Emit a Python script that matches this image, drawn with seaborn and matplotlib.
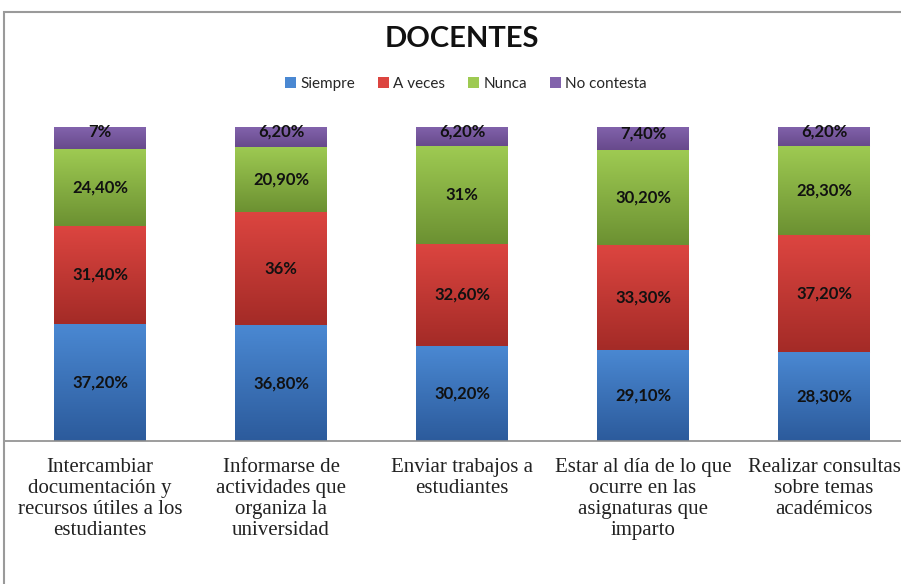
import numpy as np
import pandas as pd
import matplotlib
matplotlib.use("Agg")
import matplotlib.pyplot as plt
import seaborn as sns
from matplotlib.colors import LinearSegmentedColormap
from matplotlib.patches import Patch, Rectangle

# data
categories = [
    "Intercambiar\ndocumentación y\nrecursos útiles a los\nestudiantes",
    "Informarse de\nactividades que\norganiza la\nuniversidad",
    "Enviar trabajos a\nestudiantes",
    "Estar al día de lo que\nocurre en las\nasignaturas que\nimparto",
    "Realizar consultas\nsobre temas\nacadémicos",
]
series_names = ["Siempre", "A veces", "Nunca", "No contesta"]
siempre = [37.2, 36.8, 30.2, 29.1, 28.3]
a_veces = [31.4, 36.0, 32.6, 33.3, 37.2]
nunca = [24.4, 20.9, 31.0, 30.2, 28.3]
no_contesta = [7.0, 6.2, 6.2, 7.4, 6.2]

# base colour, top (light) and bottom (dark) of the gradient
colors = ["#3F74B8", "#C63A36", "#8BB046", "#7858A0"]
grad_top = ["#4A88D2", "#DC4540", "#9ECA52", "#8263AC"]
grad_bot = ["#2C5B9C", "#A42B27", "#6C9132", "#684A8C"]


def fmt(v):
    if float(v).is_integer():
        return f"{int(v)}%"
    return f"{v:.2f}".replace(".", ",") + "%"


sns.set_style("white")
plt.rcParams["font.family"] = ["Lato", "DejaVu Sans"]

fig = plt.figure(figsize=(9.01, 5.84), dpi=100)
W, H = 901, 584
ax_left, ax_bottom_px, ax_top_px = 4, 441, 127
ax = fig.add_axes([ax_left / W, 1 - ax_bottom_px / H, 1 - ax_left / W,
                   (ax_bottom_px - ax_top_px) / H])

df = pd.DataFrame({"cat": categories, "Siempre": siempre, "A veces": a_veces,
                   "Nunca": nunca, "No contesta": no_contesta})

bottom = np.zeros(len(categories))
seg_patches = []
for i, name in enumerate(series_names):
    n_before = len(ax.patches)
    sns.barplot(data=df, x="cat", y=name, bottom=bottom, color=colors[i],
                width=0.508, saturation=1, ax=ax, zorder=2)
    new = ax.patches[n_before:]
    for p, v in zip(new, df[name]):
        seg_patches.append((p, i, v))
    bottom = bottom + df[name].values

# vertical gradient per segment
last = len(series_names) - 1
for p, i, v in seg_patches:
    x, y = p.get_x(), p.get_y()
    w, h = p.get_width(), p.get_height()
    cmap = LinearSegmentedColormap.from_list("g", [grad_top[i], grad_bot[i]])
    grad = np.linspace(0, 1, 64).reshape(-1, 1)
    ax.imshow(grad, cmap=cmap, extent=[x, x + w, y, y + h], aspect="auto",
              origin="upper", zorder=2.5, interpolation="bicubic")
    dy = 4 if i == last else 0
    ax.annotate(fmt(v), (x + w / 2, y + h / 2), xytext=(0, dy),
                textcoords="offset points", ha="center", va="center",
                fontsize=12, fontweight="bold", color="#111111", zorder=4)

# map category i to pixel 100 + 181*i
x0 = (ax_left - 100) / 181
ax.set_xlim(x0, (W - 100) / 181)
ax.set_ylim(0, 100)
ax.set_xlabel("")
ax.set_ylabel("")
ax.set_yticks([])
ax.set_xticks(range(len(categories)))
ax.set_xticklabels(categories, fontsize=15, family=["Liberation Serif"],
                   color="#222222", linespacing=1.14)
ax.tick_params(axis="x", length=0, pad=12)
for s in ["left", "top", "right"]:
    ax.spines[s].set_visible(False)
ax.spines["bottom"].set_color("#8c8c8c")
ax.spines["bottom"].set_linewidth(1.2)
ax.patch.set_alpha(0)

fig.text(462 / W, 1 - 39 / H, "DOCENTES", ha="center", va="center",
         fontsize=21, fontweight="bold", color="#111111")

handles = [Patch(facecolor=c, edgecolor="none") for c in grad_top]
fig.legend(handles, series_names, loc="center", ncol=4,
           bbox_to_anchor=(466 / W, 1 - 84 / H), frameon=False,
           fontsize=11, handlelength=0.7, handleheight=0.7,
           handletextpad=0.3, columnspacing=1.5)

fig.add_artist(Rectangle((4 / W, -0.1), 1.2, 1.1 - 12 / H,
                         transform=fig.transFigure, fill=False,
                         edgecolor="#9a9a9a", linewidth=1.5))

fig.savefig("out.png", dpi=100)
